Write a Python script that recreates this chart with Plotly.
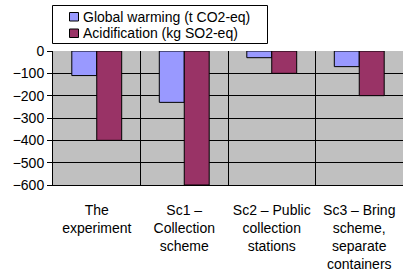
import plotly.graph_objects as go

categories = ["The<br>experiment", "Sc1 –<br>Collection<br>scheme",
              "Sc2 – Public<br>collection<br>stations",
              "Sc3 – Bring<br>scheme,<br>separate<br>containers"]
global_warming = [-110, -230, -30, -70]
acidification = [-400, -600, -100, -200]
series_names = ["Global warming (t CO2-eq)", "Acidification (kg SO2-eq)"]
series_colors = ["#9999FF", "#993366"]

W, H = 403, 273
L, R, T, B = 53, 0, 51, 88
PW, PH = W - L - R, H - T - B


def px_x(px):
    return (px - L) / PW


def px_y(py):
    return (H - B - py) / PH


fig = go.Figure()
fig.add_trace(go.Bar(x=categories, y=global_warming, name=series_names[0], showlegend=False,
                     marker=dict(color=series_colors[0], line=dict(color="black", width=1))))
fig.add_trace(go.Bar(x=categories, y=acidification, name=series_names[1], showlegend=False,
                     marker=dict(color=series_colors[1], line=dict(color="black", width=1))))

# legend box (drawn manually to match the compact spacing)
shapes = [dict(type="rect", xref="paper", yref="paper",
               x0=px_x(52.5), x1=px_x(267.5), y0=px_y(43.5), y1=px_y(5.5),
               fillcolor="white", line=dict(color="black", width=1), layer="above")]
annotations = []
rows = [(12.5, 21.0, 16.5), (29.0, 37.5, 33.5)]
for (ya, yb, yc), name, col in zip(rows, series_names, series_colors):
    shapes.append(dict(type="rect", xref="paper", yref="paper",
                       x0=px_x(69.5), x1=px_x(78.5), y0=px_y(yb), y1=px_y(ya),
                       fillcolor=col, line=dict(color="black", width=1), layer="above"))
    annotations.append(dict(xref="paper", yref="paper", x=px_x(80.5), y=px_y(yc),
                            xanchor="left", yanchor="middle", text=name, showarrow=False,
                            font=dict(size=14, color="black")))

fig.update_layout(
    width=W, height=H,
    margin=dict(l=L, r=R, t=T, b=B, autoexpand=False),
    paper_bgcolor="white", plot_bgcolor="#C0C0C0",
    font=dict(family="Liberation Sans, Arial, sans-serif", size=14, color="black"),
    barmode="group", bargap=0.43, bargroupgap=0,
    shapes=shapes, annotations=annotations,
    showlegend=False,
)
fig.update_yaxes(range=[-600, 0], dtick=100, showgrid=True, gridcolor="black", gridwidth=1,
                 ticks="outside", ticklen=5, tickcolor="black", showline=True,
                 linecolor="black", linewidth=1, zeroline=False, fixedrange=True)
fig.update_xaxes(showgrid=True, gridcolor="black", gridwidth=1, tickson="boundaries",
                 ticks="", showline=True, linecolor="black", linewidth=1,
                 ticklabelstandoff=12, tickangle=0, fixedrange=True)

fig.write_html("out.html", config={"displayModeBar": False},
               post_script="document.body.style.margin='0';")
